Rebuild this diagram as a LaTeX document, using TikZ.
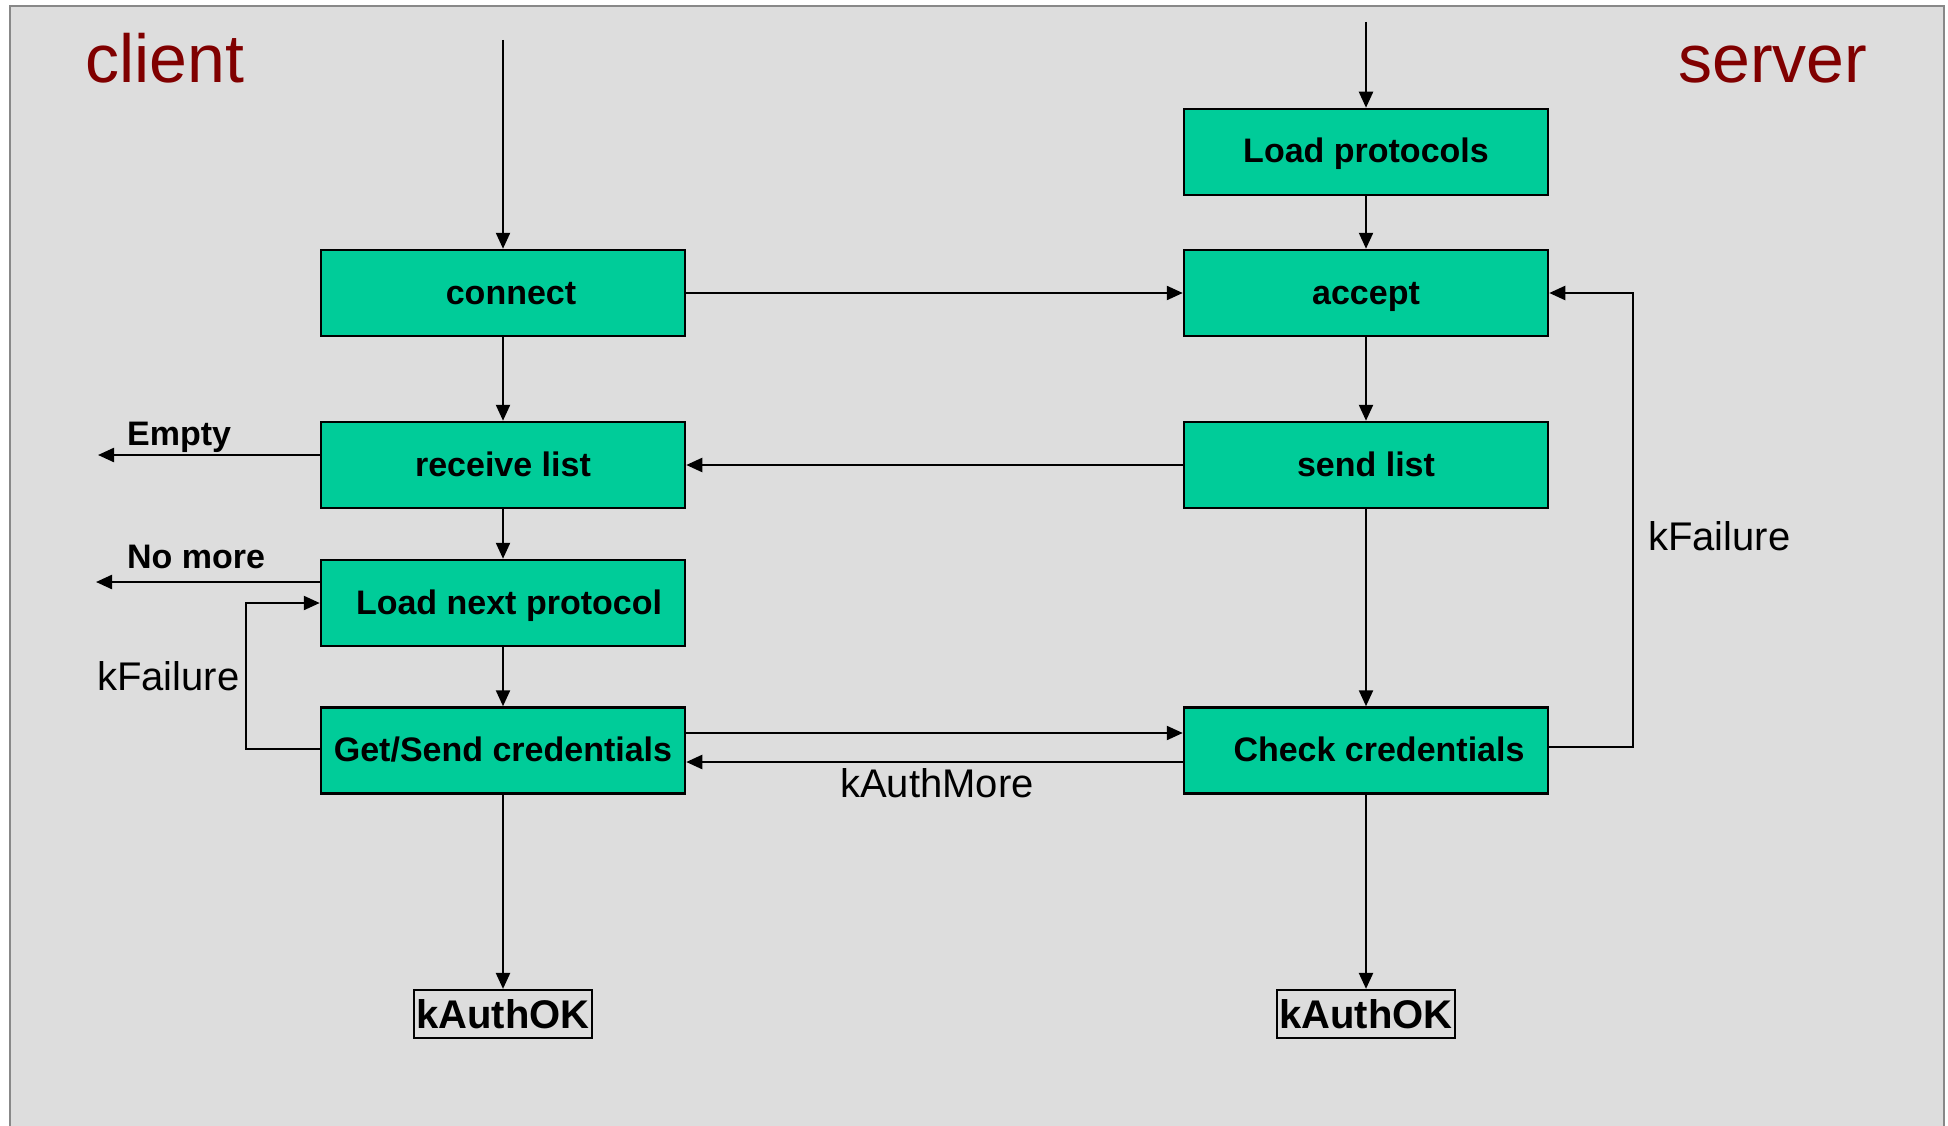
\documentclass[tikz,border=0pt]{standalone}
\usepackage{fontspec}
\setmainfont{Liberation Sans}
\usetikzlibrary{arrows.meta}
\definecolor{panel}{HTML}{DDDDDD}
\definecolor{stepfill}{HTML}{00CC99}
\definecolor{sidered}{HTML}{800000}
\definecolor{framegray}{HTML}{888888}

\begin{document}
\begin{tikzpicture}[x=1pt,y=-1pt,
  stepbox/.style={draw=black, line width=2.5pt, fill=stepfill, minimum width=364pt,
    minimum height=86pt, inner sep=0pt, font=\fontsize{34}{40}\selectfont\bfseries,
    text height=25.5pt, text depth=3.5pt},
  endbox/.style={draw=black, line width=2.2pt, minimum width=178pt, minimum height=48pt,
    inner sep=0pt, font=\fontsize{40}{48}\selectfont\bfseries},
  flow/.style={line width=2.3pt, -{Triangle[length=16pt,width=14pt]}},
  side/.style={font=\fontsize{68}{80}\selectfont, text=sidered, anchor=base west, inner sep=0pt},
  tag/.style={font=\fontsize{40}{48}\selectfont, anchor=base west, inner sep=0pt},
  boldtag/.style={font=\fontsize{34}{40}\selectfont\bfseries, anchor=base west, inner sep=0pt}]

% canvas and panel
\useasboundingbox (0,0) rectangle (1948,1126);
\fill[white] (0,0) rectangle (1948,1126);
\fill[panel] (10,6) rectangle (1944,1126);
\draw[framegray, line width=2.5pt] (10,1126) -- (10,6) -- (1944,6) -- (1944,1126);

% side titles
\node[side] (clienttitle) at (85,83) {client};
\node[side] (servertitle) at (1678,83) {server};

% client column
\node[stepbox] (connect)  at (503,293)   {\hspace*{16pt}connect};
\node[stepbox] (receive)  at (503,465)   {receive list};
\node[stepbox] (loadnext) at (503,603)   {\hspace*{12pt}Load next protocol};
\node[stepbox] (getsend)  at (503,750.5) {Get/Send credentials};
\node[endbox]  (okc)      at (503,1014)  {kAuthOK};

% server column
\node[stepbox] (loadp)  at (1366,152)   {Load protocols};
\node[stepbox] (accept) at (1366,293)   {accept};
\node[stepbox] (send)   at (1366,465)   {send list};
\node[stepbox] (check)  at (1366,750.5) {\hspace*{26pt}Check credentials};
\node[endbox]  (oks)    at (1366,1014)  {kAuthOK};

% entry points
\coordinate (cstart) at (503,40);
\coordinate (sstart) at (1366,22);
\draw[flow] (cstart) -- (connect.north);
\draw[flow] (sstart) -- (loadp.north);

% main flow
\draw[flow] (loadp) -- (accept);
\draw[flow] (connect) -- (accept);
\draw[flow] (connect) -- (receive);
\draw[flow] (accept) -- (send);
\draw[flow] (send) -- (receive);
\draw[flow] (receive) -- (loadnext);
\draw[flow] (loadnext) -- (getsend);
\draw[flow] (send) -- (check);
\draw[flow] ([yshift=17.5pt]getsend.east) -- ([yshift=17.5pt]check.west);
\draw[flow] ([yshift=-11.5pt]check.west) -- ([yshift=-11.5pt]getsend.east);
\draw[flow] (getsend) -- (okc);
\draw[flow] (check) -- (oks);

% exits on the client side
\coordinate (emptyend) at (98,455);
\coordinate (nomoreend) at (96,582);
\draw[flow] (receive.west |- emptyend) -- (emptyend);
\draw[flow] (loadnext.west |- nomoreend) -- (nomoreend);

% retry loops
\coordinate (cloop) at (246,749);
\draw[flow] (getsend.west |- cloop) -- (cloop) |- (loadnext.west);
\coordinate (sloop) at (1633,747);
\draw[flow] (check.east |- sloop) -- (sloop) |- (accept.east);

% labels
\node[boldtag] (emptylbl)  at (127,445) {Empty};
\node[boldtag] (nomorelbl) at (127,568) {No more};
\node[tag] (cfail) at (97,690) {kFailure};
\node[tag] (sfail) at (1648,550) {kFailure};
\node[tag] (more)  at (840,797) {kAuthMore};
\end{tikzpicture}
\end{document}
